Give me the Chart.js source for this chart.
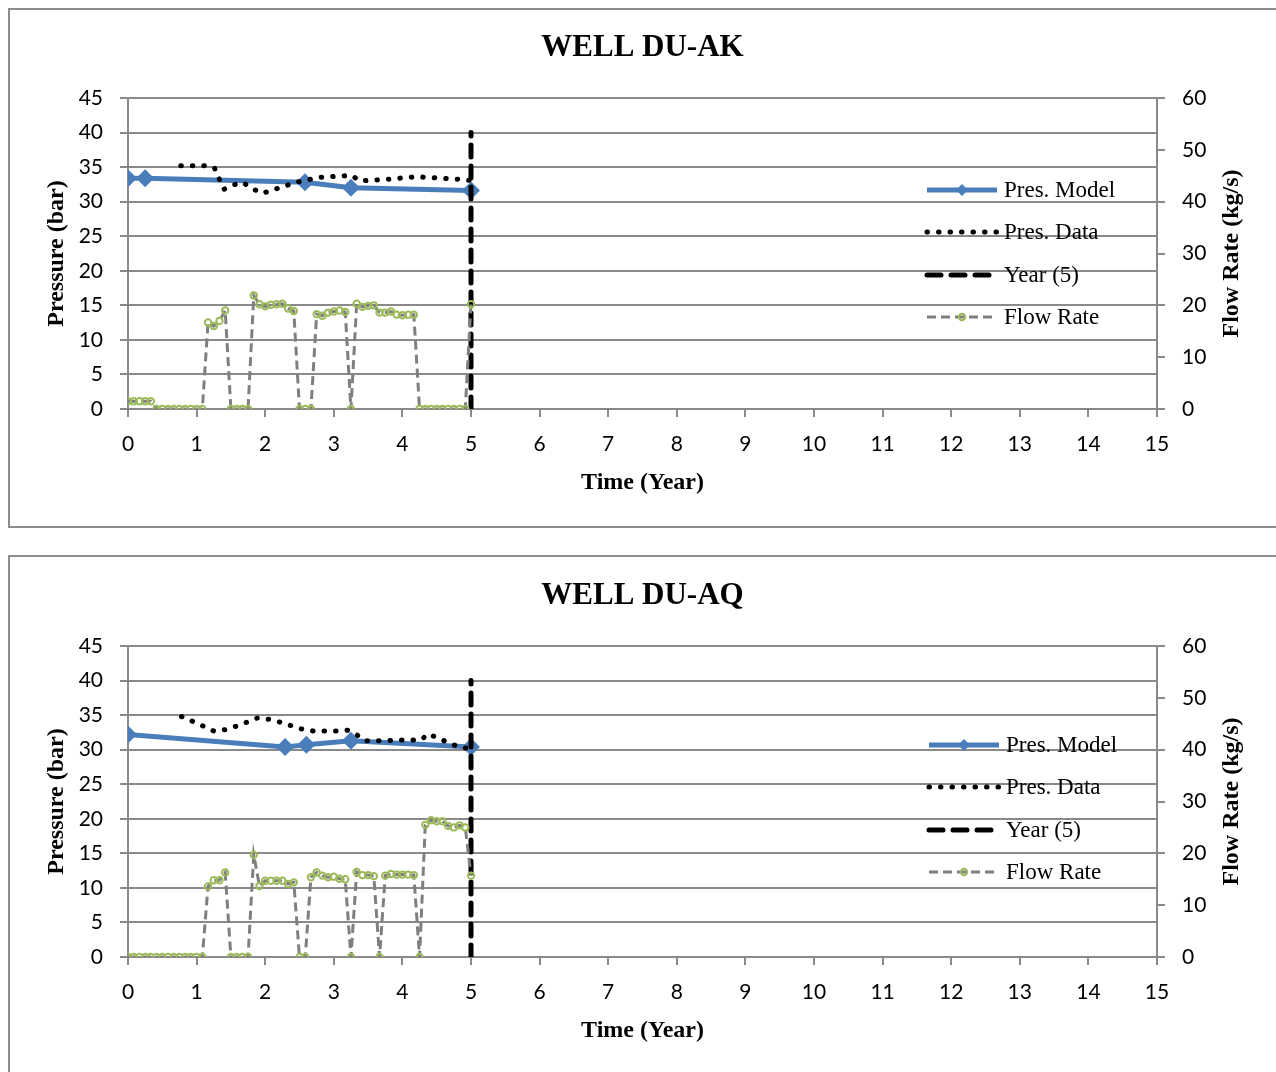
<!DOCTYPE html>
<html>
<head>
<meta charset="utf-8">
<title>Wells DU-AK / DU-AQ</title>
<script src="https://cdn.jsdelivr.net/npm/chart.js@4.4.1/dist/chart.umd.min.js"></script>
<style>
  html, body { margin: 0; padding: 0; background: #fff; overflow: hidden; }
  .frame { position: absolute; left: 8px; width: 1300px; border: 2px solid #8c8c8c; border-right: none; }
  #frame1 { top: 8px; height: 516px; }
  #frame2 { top: 555px; height: 600px; }
  .plot { position: absolute; left: 0; width: 1276px; height: 540px; }
  #plot1 { top: 0; }
  #plot2 { top: 548px; }
</style>
</head>
<body>
<div class="frame" id="frame1"></div>
<div class="frame" id="frame2"></div>
<div class="plot" id="plot1"><canvas id="chart1"></canvas></div>
<div class="plot" id="plot2"><canvas id="chart2"></canvas></div>

<script>
// ---- data (time in years, pressure in bar, flow in kg/s) ----
var seriesNames = ['Pres. Model', 'Pres. Data', 'Year (5)', 'Flow Rate'];

// WELL DU-AK
var akModelYears = [0, 0.25, 2.58, 3.25, 5];
var akModelPres  = [33.4, 33.4, 32.8, 32.0, 31.6];
var akDataYears = [0.77, 0.94, 1.11, 1.26, 1.33, 1.40, 1.53, 1.67, 1.81, 1.96, 2.11, 2.27, 2.44, 2.60, 2.77,
                   2.93, 3.10, 3.26, 3.38, 3.55, 3.71, 3.88, 4.05, 4.22, 4.38, 4.55, 4.72, 4.89, 5.05];
var akDataPres  = [35.2, 35.2, 35.2, 34.9, 33.3, 31.8, 32.4, 32.8, 31.9, 31.2, 31.7, 32.2, 32.8, 33.1, 33.5,
                   33.6, 33.7, 33.8, 33.0, 33.1, 33.2, 33.3, 33.5, 33.6, 33.5, 33.4, 33.3, 33.2, 33.0];
// monthly flow, month 0 .. 60
var akFlow = [1.5, 1.5, 1.5, 1.5, 1.5,
              0, 0, 0, 0, 0, 0, 0, 0, 0,
              16.7, 16.0, 17.0, 19.0,
              0, 0, 0, 0,
              21.9, 20.2, 19.8, 20.1, 20.2, 20.3, 19.4, 18.9,
              0, 0, 0,
              18.3, 18.0, 18.6, 18.8, 19.0, 18.7,
              0,
              20.3, 19.7, 19.9, 20.0, 18.6, 18.6, 18.8, 18.2, 18.1, 18.2, 18.2,
              0, 0, 0, 0, 0, 0, 0, 0, 0,
              20.2];

// WELL DU-AQ
var aqModelYears = [0, 2.29, 2.6, 3.25, 5];
var aqModelPres  = [32.2, 30.4, 30.7, 31.3, 30.4];
var aqDataYears = [0.78, 0.94, 1.10, 1.25, 1.42, 1.58, 1.74, 1.89, 2.05, 2.21, 2.37, 2.53, 2.70, 2.86,
                   3.03, 3.20, 3.33, 3.45, 3.61, 3.77, 3.94, 4.10, 4.27, 4.38, 4.53, 4.68, 4.84, 4.98];
var aqDataPres  = [34.8, 34.1, 33.4, 32.7, 32.9, 33.4, 34.0, 34.6, 34.4, 34.0, 33.5, 33.0, 32.7, 32.7,
                   32.7, 32.8, 32.2, 31.3, 31.3, 31.3, 31.4, 31.4, 31.4, 32.3, 31.6, 31.0, 30.3, 30.2];
var aqFlow = [0, 0, 0, 0, 0, 0, 0, 0, 0, 0, 0, 0, 0, 0,
              13.6, 14.8, 14.8, 16.3,
              0, 0, 0, 0,
              19.7, 13.7, 14.7, 14.7, 14.7, 14.7, 14.1, 14.4,
              0, 0,
              15.4, 16.3, 15.7, 15.4, 15.5, 15.1, 15.0,
              0,
              16.4, 15.8, 15.8, 15.6,
              0,
              15.7, 16.0, 15.9, 15.9, 15.9, 15.8,
              0,
              25.5, 26.4, 26.2, 26.2, 25.3, 25.0, 25.4, 25.0,
              15.7];

// vertical marker at year 5
var yearLineX = [5, 5];
var yearLineY = [0, 40];

var flowAxisTitle = 'Flow Rate (kg/s)';

// ---- styling ----
var gridColor = '#8a8a8a';
var blue = '#4a7ebb';
var green = '#9bbb59';
var tickFont = { family: 'Lato', size: 21 };
var titleFont = { family: 'Liberation Serif', size: 24, weight: 'bold' };

function pairs(xs, ys) {
  return xs.map(function(x, i) { return { x: x, y: ys[i] }; });
}
function monthly(vals) {
  return vals.map(function(v, i) { return { x: i / 12, y: v }; });
}

// legend drawn inside the plot, like the Excel original
var insideLegend = {
  id: 'insideLegend',
  afterDraw: function(chart, args, opts) {
    var ctx = chart.ctx;
    ctx.save();
    chart.data.datasets.forEach(function(ds, i) {
      var y = opts.rows[i], x0 = opts.x, x1 = opts.x + 70;
      ctx.beginPath();
      ctx.setLineDash(ds.legendDash || ds.borderDash || []);
      ctx.lineCap = ds.borderCapStyle || 'butt';
      ctx.lineWidth = ds.borderWidth;
      ctx.strokeStyle = ds.borderColor;
      ctx.moveTo(x0, y);
      ctx.lineTo(x1, y);
      ctx.stroke();
      ctx.setLineDash([]);
      var cx = (x0 + x1) / 2;
      if (ds.pointStyle === 'rectRot') {
        ctx.fillStyle = ds.pointBackgroundColor;
        ctx.beginPath();
        ctx.moveTo(cx, y - 6); ctx.lineTo(cx + 6, y); ctx.lineTo(cx, y + 6); ctx.lineTo(cx - 6, y);
        ctx.closePath();
        ctx.fill();
      } else if (ds.pointRadius > 0) {
        ctx.strokeStyle = ds.pointBorderColor;
        ctx.lineWidth = ds.pointBorderWidth;
        ctx.beginPath();
        ctx.arc(cx, y, ds.pointRadius, 0, Math.PI * 2);
        ctx.stroke();
      }
      ctx.fillStyle = '#000';
      ctx.font = '23px "Liberation Serif"';
      ctx.textBaseline = 'middle';
      ctx.fillText(ds.label, x1 + 7, y + 1);
    });

    // right axis title reads bottom-to-top, as in the original
    var area = chart.chartArea;
    ctx.translate(1232, (area.top + area.bottom) / 2);
    ctx.rotate(-Math.PI / 2);
    ctx.font = 'bold 24px "Liberation Serif"';
    ctx.textAlign = 'center';
    ctx.textBaseline = 'middle';
    ctx.fillText(flowAxisTitle, 0, 0);
    ctx.restore();
  }
};

function makeChart(id, title, modelX, modelY, dataX, dataY, flow, legendX, legendRows) {
  return new Chart(document.getElementById(id), {
    type: 'line',
    data: {
      datasets: [{
        label: seriesNames[0],
        data: pairs(modelX, modelY),
        yAxisID: 'y',
        order: 4,
        borderColor: blue,
        borderWidth: 5,
        pointStyle: 'rectRot',
        pointRadius: 9,
        pointBorderWidth: 0,
        pointBackgroundColor: blue
      }, {
        label: seriesNames[1],
        data: pairs(dataX, dataY),
        yAxisID: 'y',
        order: 3,
        borderColor: '#000',
        borderWidth: 5,
        borderDash: [0.5, 11],
        borderCapStyle: 'round',
        pointRadius: 0
      }, {
        label: seriesNames[2],
        data: pairs(yearLineX, yearLineY),
        yAxisID: 'y',
        order: 2,
        borderColor: '#000',
        borderWidth: 5,
        borderDash: [12, 9],
        legendDash: [14, 10],
        borderCapStyle: 'round',
        pointRadius: 0
      }, {
        label: seriesNames[3],
        data: monthly(flow),
        yAxisID: 'y1',
        order: 1,
        borderColor: '#7f7f7f',
        borderWidth: 3,
        borderDash: [9, 5],
        pointStyle: 'circle',
        pointRadius: 3.2,
        pointBorderWidth: 2,
        pointBorderColor: green,
        pointBackgroundColor: 'rgba(255,255,255,0)'
      }]
    },
    options: {
      responsive: true,
      maintainAspectRatio: false,
      animation: false,
      layout: { padding: 0 },
      plugins: {
        legend: { display: false },
        tooltip: { enabled: false },
        title: {
          display: true,
          text: title,
          fullSize: false,
          color: '#000',
          font: { family: 'Liberation Serif', size: 31, weight: 'bold' },
          padding: { top: 29.4, bottom: 31.4 }
        },
        insideLegend: { x: legendX, rows: legendRows }
      },
      scales: {
        x: {
          type: 'linear',
          min: 0, max: 15,
          ticks: { stepSize: 1, padding: 15, color: '#000', font: tickFont },
          grid: { drawOnChartArea: false, color: gridColor, lineWidth: 2, tickLength: 8 },
          border: { color: gridColor, width: 2 },
          title: { display: true, text: 'Time (Year)', color: '#000', font: titleFont, padding: { top: 0, bottom: 42.6 } },
          afterFit: function(s) { s.height = 131; }
        },
        y: {
          position: 'left',
          min: 0, max: 45,
          ticks: { stepSize: 5, padding: 17, color: '#000', font: tickFont },
          grid: { color: gridColor, lineWidth: 2, tickLength: 8 },
          border: { color: gridColor, width: 2 },
          title: { display: true, text: 'Pressure (bar)', color: '#000', font: titleFont, padding: { top: 42.6, bottom: 0 } },
          afterFit: function(s) { s.width = 128; }
        },
        y1: {
          position: 'right',
          min: 0, max: 60,
          ticks: { stepSize: 10, padding: 17, color: '#000', font: tickFont },
          grid: { drawOnChartArea: false, color: gridColor, lineWidth: 2, tickLength: 8 },
          border: { color: gridColor, width: 2 },
          title: { display: false },
          afterFit: function(s) { s.width = 119; }
        }
      }
    },
    plugins: [insideLegend]
  });
}

makeChart('chart1', 'WELL DU-AK', akModelYears, akModelPres, akDataYears, akDataPres, akFlow,
          927, [190, 232, 275, 317]);
makeChart('chart2', 'WELL DU-AQ', aqModelYears, aqModelPres, aqDataYears, aqDataPres, aqFlow,
          929, [197, 239, 282, 324]);
</script>
</body>
</html>
